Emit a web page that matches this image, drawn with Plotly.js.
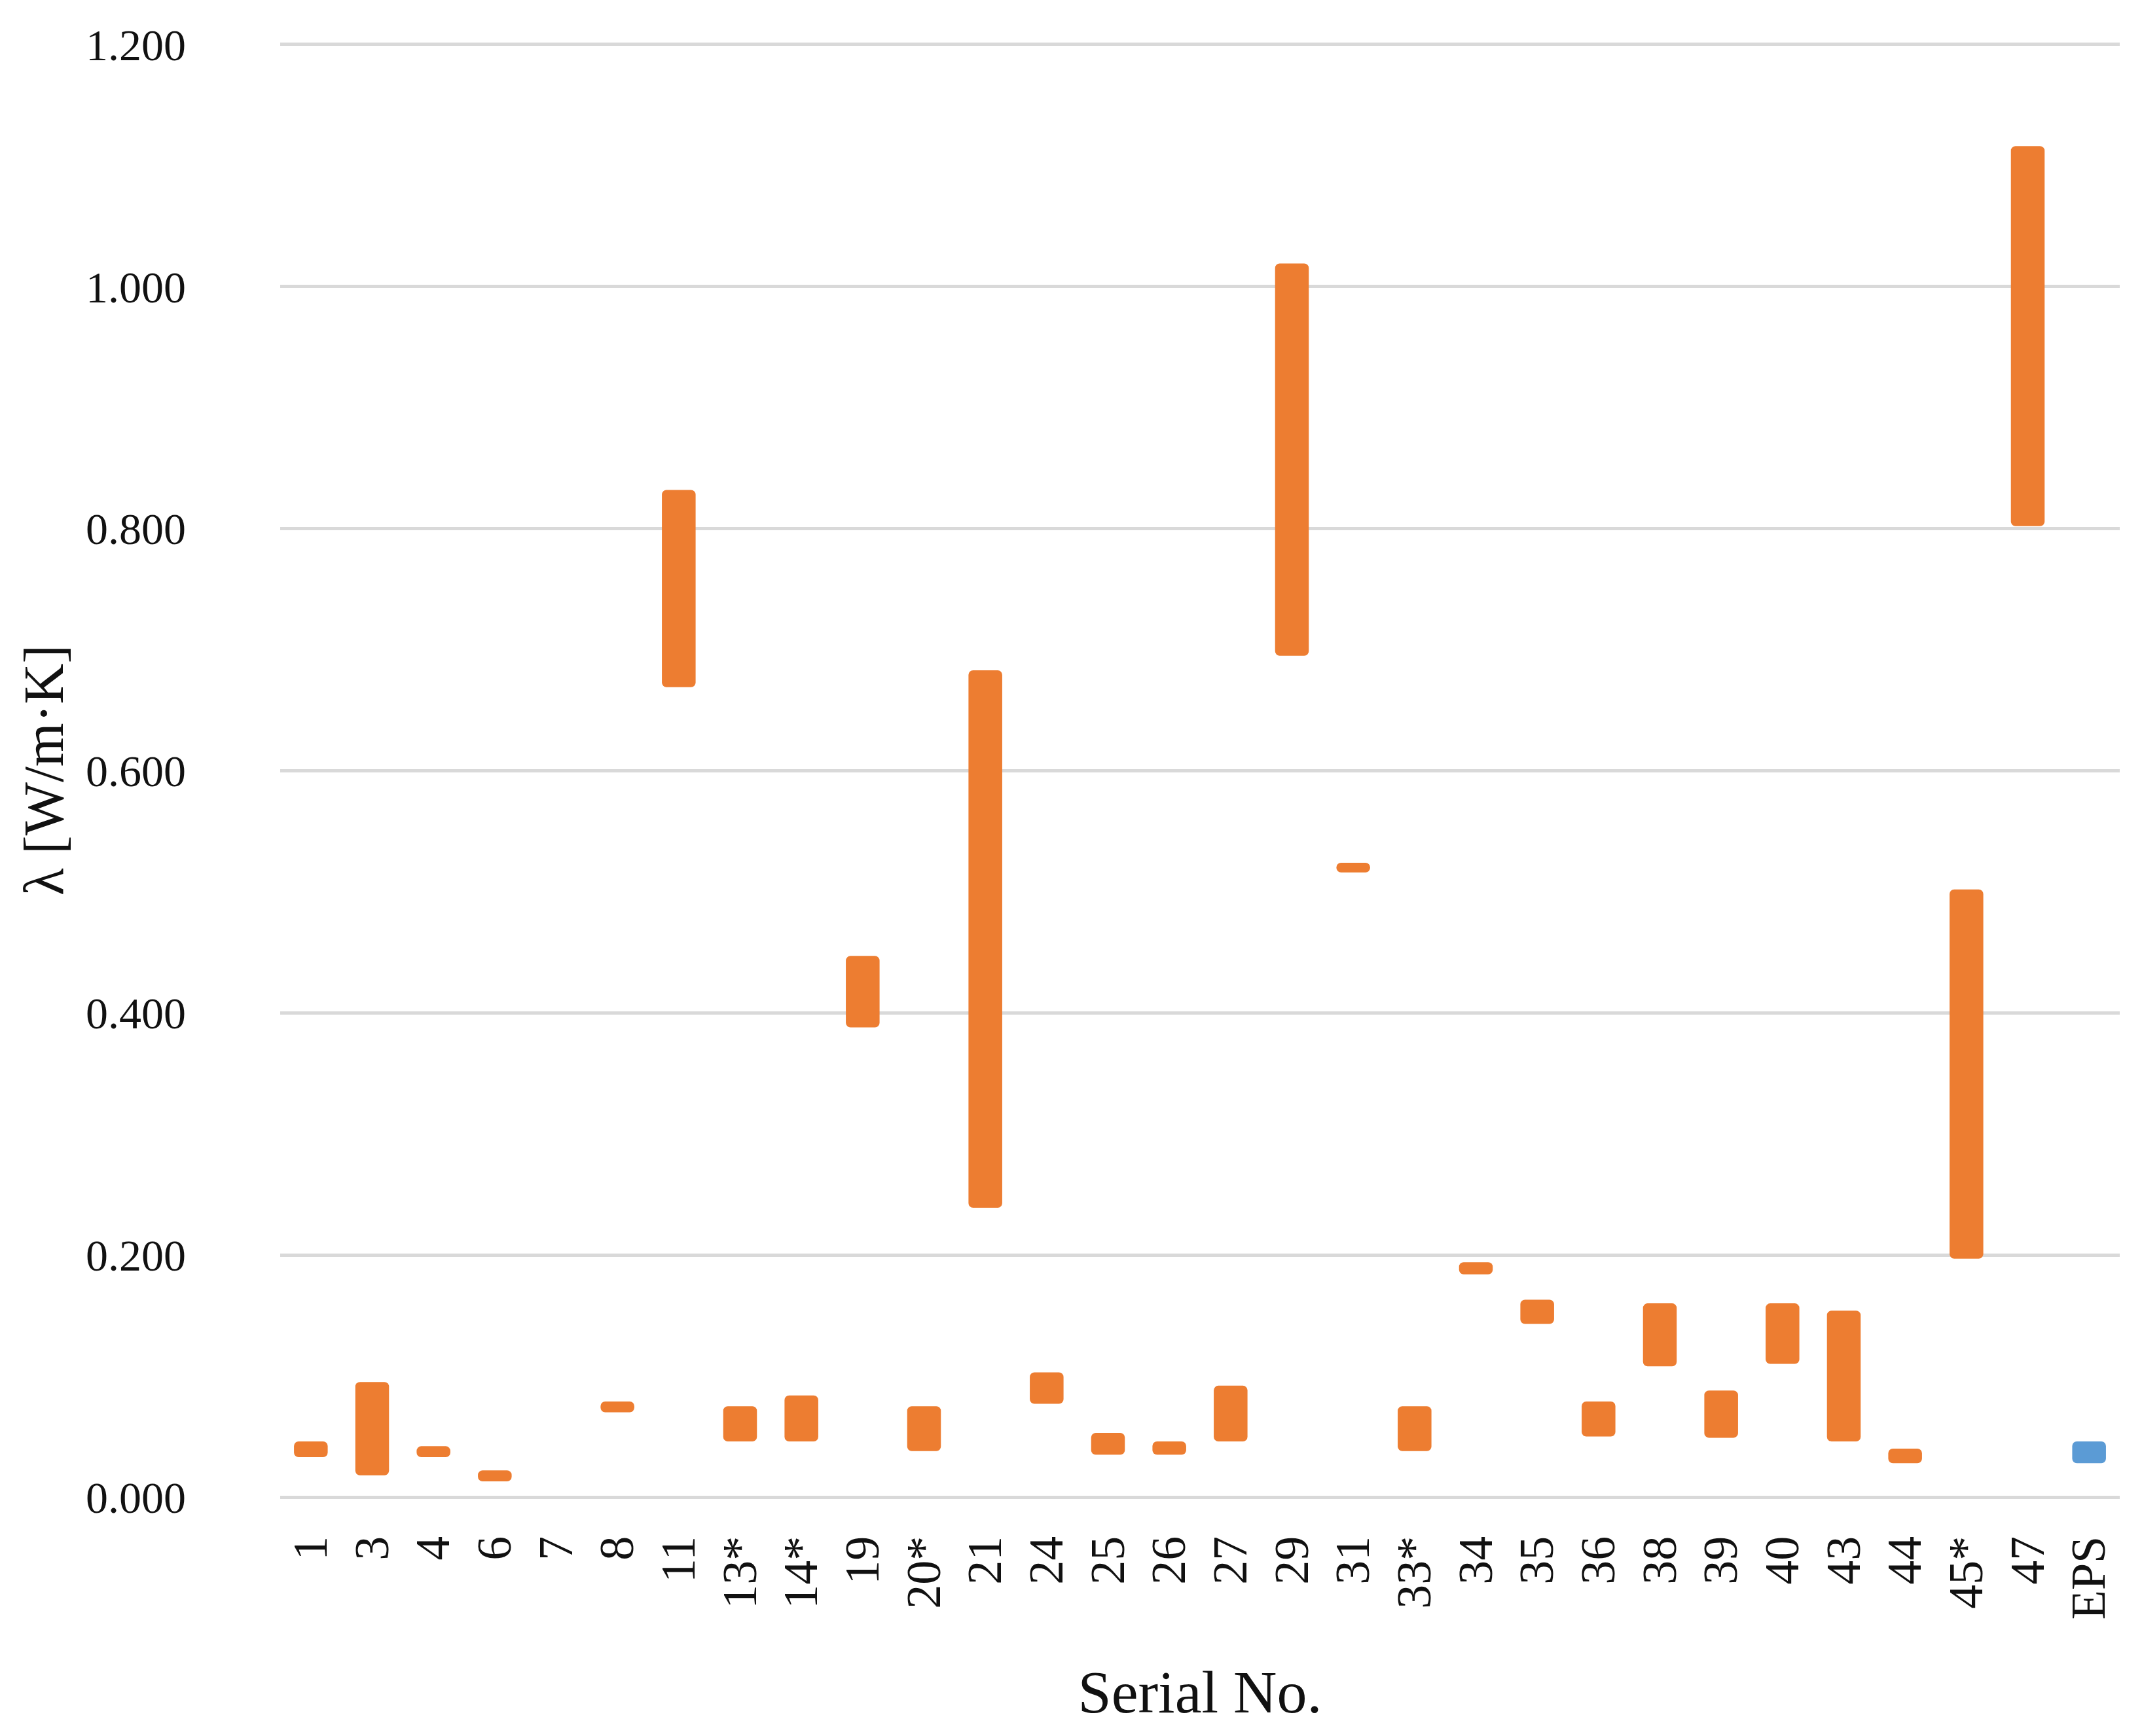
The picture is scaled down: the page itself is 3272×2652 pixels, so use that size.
<!DOCTYPE html>
<html>
<head>
<meta charset="utf-8">
<script src="https://cdn.plot.ly/plotly-3.0.1.min.js"></script>
<style>
  html, body { margin: 0; padding: 0; background: #ffffff; }
  #chart { width: 3272px; height: 2652px; }
</style>
</head>
<body>
<div id="chart"></div>
<script>
// Serial numbers (categories)
const categories = ['1','3','4','6','7','8','11','13*','14*','19','20*','21','24','25','26','27','29','31','33*','34','35','36','38','39','40','43','44','45*','47','EPS'];

// Thermal conductivity range [W/m·K] for each material (null = no data)
const lambdaMin = [0.033, 0.018, 0.033, 0.013, null, 0.070, 0.669, 0.046, 0.046, 0.388, 0.038, 0.239, 0.077, 0.035, 0.035, 0.046, 0.695, 0.516, 0.038, 0.184, 0.143, 0.050, 0.108, 0.049, 0.110, 0.046, 0.028, 0.197, 0.802];
const lambdaMax = [0.046, 0.095, 0.042, 0.022, null, 0.079, 0.832, 0.075, 0.084, 0.447, 0.075, 0.683, 0.103, 0.053, 0.046, 0.092, 1.019, 0.524, 0.075, 0.194, 0.163, 0.079, 0.160, 0.088, 0.160, 0.154, 0.040, 0.502, 1.116];

// Reference material
const epsCategory = ['EPS'];
const epsMin = [0.028];
const epsMax = [0.046];

const yTickValues = [0, 0.2, 0.4, 0.6, 0.8, 1.0, 1.2];

const materialCats = categories.slice(0, lambdaMin.length);
const spans = lambdaMax.map((v, i) => (v === null || lambdaMin[i] === null) ? null : v - lambdaMin[i]);
const epsSpans = epsMax.map((v, i) => v - epsMin[i]);

const FONT = 'Liberation Serif, Times New Roman, serif';

const traces = [
  {
    type: 'bar',
    x: materialCats,
    y: spans,
    base: lambdaMin,
    width: 0.55,
    marker: { color: '#ED7D31', cornerradius: 7, line: { width: 0 } },
    hoverinfo: 'x+y',
    showlegend: false
  },
  {
    type: 'bar',
    x: epsCategory,
    y: epsSpans,
    base: epsMin,
    width: 0.55,
    marker: { color: '#5B9BD5', cornerradius: 7, line: { width: 0 } },
    hoverinfo: 'x+y',
    showlegend: false
  }
];

const layout = {
  width: 3272,
  height: 2652,
  margin: { l: 428, r: 34, t: 66, b: 365 },
  paper_bgcolor: '#ffffff',
  plot_bgcolor: '#ffffff',
  barmode: 'overlay',
  font: { family: FONT, color: '#111111', size: 70 },
  xaxis: {
    type: 'category',
    categoryorder: 'array',
    categoryarray: categories,
    range: [-0.5, categories.length - 0.5],
    tickangle: -90,
    ticks: '',
    showgrid: false,
    showline: false,
    zeroline: false,
    ticklabelstandoff: 44,
    tickfont: { family: FONT, size: 74, color: '#111111' },
    title: { text: 'Serial No.', font: { family: FONT, size: 92, color: '#111111' }, standoff: 78 },
    automargin: false
  },
  yaxis: {
    range: [0, 1.201],
    tickvals: yTickValues,
    tickformat: '.3f',
    showgrid: true,
    gridcolor: '#D9D9D9',
    gridwidth: 5,
    zeroline: true,
    zerolinecolor: '#D9D9D9',
    zerolinewidth: 5,
    showline: false,
    ticks: '',
    ticklabelstandoff: 143,
    tickfont: { family: FONT, size: 68, color: '#111111' },
    title: { text: 'λ [W/m·K]', font: { family: FONT, size: 86, color: '#111111' }, standoff: 5 },
    automargin: false
  }
};

Plotly.newPlot('chart', traces, layout, { displayModeBar: false, staticPlot: true });
</script>
</body>
</html>
